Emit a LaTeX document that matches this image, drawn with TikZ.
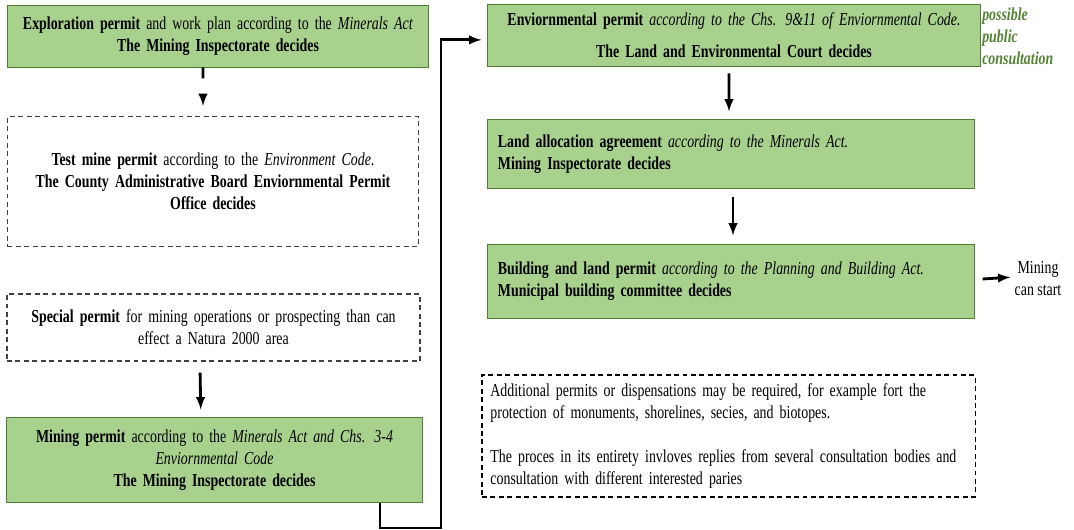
\documentclass[tikz,border=0pt]{standalone}
\usepackage{fontspec}
\setmainfont{Liberation Serif}[FakeStretch=0.76]
\usetikzlibrary{shapes,positioning}
\definecolor{boxgreen}{HTML}{A9D18E}
\definecolor{edgegreen}{HTML}{507E32}
\definecolor{notegreen}{HTML}{548235}

\begin{document}
\begin{tikzpicture}[x=0.025cm,y=-0.025cm,
    txt/.style={font=\fontsize{13pt}{15.6pt}\selectfont},
    greenbox/.style={txt,draw=edgegreen,line width=0.7pt,fill=boxgreen,inner sep=0pt},
    dashbox/.style={txt,draw=black!75,line width=0.8pt,dash pattern=on 3.5pt off 2.5pt,inner sep=0pt},
    conn/.style={->,>=latex,line width=2pt}]
    \useasboundingbox (0,0) rectangle (1074,530);

    \node[greenbox,minimum width=10.5cm,minimum height=1.525cm,text width=10.3cm,align=center] (E) at (218,36.5) {\textbf{Exploration permit} and work plan according to the \textit{Minerals Act}\\ \textbf{The Mining Inspectorate decides}};
    \node[dashbox,minimum width=10.275cm,minimum height=3.25cm,text width=10.1cm,align=center] (T) at (213,181.5) {\textbf{Test mine permit} according to the \textit{Environment Code}.\\ \textbf{The County Administrative Board Enviornmental Permit}\\ \textbf{Office decides}};
    \node[dashbox,minimum width=10.325cm,minimum height=1.675cm,text width=10.1cm,align=center] (S) at (213.5,327.5) {\textbf{Special permit} for mining operations or prospecting than can\\ effect a Natura 2000 area};
    \node[greenbox,minimum width=10.375cm,minimum height=2.1cm,text width=10.2cm,align=center] (M) at (214.5,460) {\textbf{Mining permit} according to the \textit{Minerals Act and Chs. 3-4}\\ \textit{Enviornmental Code}\\ \textbf{The Mining Inspectorate decides}};

    \node[greenbox,minimum width=12.3cm,minimum height=1.525cm,text width=12.1cm,align=center] (V) at (734,35.5) {\textbf{Enviornmental permit} \textit{according to the Chs. 9\&11 of Enviornmental Code.}\\[7pt] \textbf{The Land and Environmental Court decides}};
    \node[greenbox,minimum width=12.15cm,minimum height=1.7cm,text width=11.65cm,align=left] (L) at (731,154) {\textbf{Land allocation agreement} \textit{according to the Minerals Act.}\\ \textbf{Mining Inspectorate decides}};
    \node[greenbox,minimum width=12.15cm,minimum height=1.825cm,text width=11.65cm,align=left] (B) at (731,281.5) {\textbf{Building and land permit} \textit{according to the Planning and Building Act.}\\ \textbf{Municipal building committee decides}};
    \node[dashbox,draw=black,minimum width=12.325cm,minimum height=3.05cm,text width=11.9cm,align=left] (A) at (728.5,436) {Additional permits or dispensations may be required, for example fort the\\ protection of monuments, shorelines, secies, and biotopes.\\[15.6pt] The proces in its entirety invloves replies from several consultation bodies and\\ consultation with different interested paries};

    \node[txt,text=notegreen,anchor=north west,align=left,inner sep=0pt] (P) at (982,8) {\textbf{\textit{possible}}\\ \textbf{\textit{public}}\\ \textbf{\textit{consultation}}};
    \node[txt,align=center,inner sep=0pt] (G) at (1038,279) {Mining\\ can start};

    % arrows
    \draw[conn,dash pattern=on 0.27cm off 0.5cm,shorten >=0.25cm] ([xshift=-0.375cm]E.south) -- ([xshift=-0.25cm]T.north);
    \draw[conn,shorten <=0.275cm,shorten >=0.2cm] ([xshift=-0.34cm]S.south) -- ([xshift=-0.34cm]M.north);
    \draw[conn,shorten <=0.175cm,shorten >=0.2cm] ([xshift=-0.125cm]V.south) -- ([xshift=-0.05cm]L.north);
    \draw[conn,shorten <=0.225cm,shorten >=0.225cm] ([xshift=0.05cm]L.south) -- ([xshift=0.05cm]B.north);
    \draw[conn,shorten <=0.2cm,shorten >=0.1cm] ([yshift=0.05cm]B.east) -- ([yshift=0.05cm]G.west);

    % route to the right column
    \coordinate (C) at (380,503);
    \coordinate (D) at (441,528);
    \draw[conn,shorten >=0.15cm] (C) |- (D) |- ([yshift=-0.11cm]V.west);
\end{tikzpicture}
\end{document}
